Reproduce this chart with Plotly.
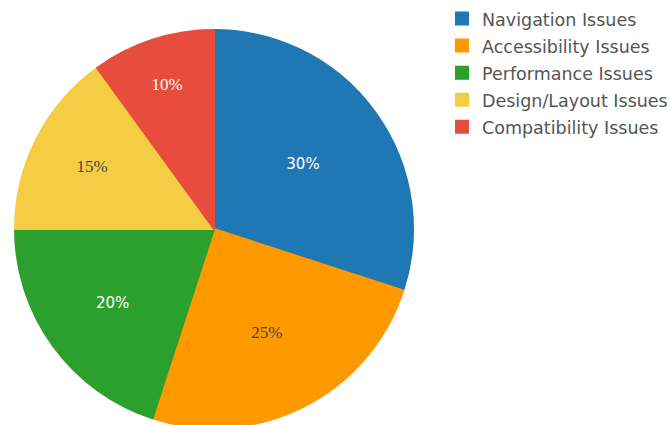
import plotly.graph_objects as go

categories = ["Navigation Issues", "Accessibility Issues", "Performance Issues",
              "Design/Layout Issues", "Compatibility Issues"]
values = [30, 25, 20, 15, 10]
colors = ["#1f77b4", "#ff9900", "#2ca02c", "#f4cd45", "#e74c3c"]
text_colors = ["#ffffff", "#444444", "#ffffff", "#444444", "#ffffff"]
text_fonts = ["DejaVu Sans", "Liberation Serif", "DejaVu Sans", "Liberation Serif", "Liberation Serif"]
text_sizes = [15, 17, 15, 17, 17]

legend_labels = ["<span style='font-size:17.5px'>%s</span>" % c for c in categories]

W, H = 671, 430
L, T, B, R = 15, 30, 2, 0
D = 398

fig = go.Figure(go.Pie(
    labels=legend_labels,
    values=values,
    sort=False,
    direction="clockwise",
    rotation=0,
    textinfo="percent",
    textposition="inside",
    insidetextorientation="horizontal",
    marker=dict(colors=colors, line=dict(color=colors, width=2)),
    textfont=dict(color=text_colors, family=text_fonts, size=text_sizes),
    domain=dict(x=[0, D / (W - L - R)], y=[0, 1]),
    hoverinfo="label+percent",
))

fig.update_layout(
    width=W, height=H,
    margin=dict(l=L, r=R, t=T, b=B, pad=0, autoexpand=False),
    paper_bgcolor="white",
    plot_bgcolor="white",
    showlegend=True,
    legend=dict(
        xref="container", yref="container",
        x=442 / W, y=1 + 1 / H,
        xanchor="left", yanchor="top",
        font=dict(family="DejaVu Sans", size=18.5, color="#555555"),
        bgcolor="rgba(0,0,0,0)",
    ),
)

fig.write_html(
    "out.html",
    post_script="document.documentElement.style.overflow='hidden';document.body.style.overflow='hidden';document.body.style.margin='0';",
)
